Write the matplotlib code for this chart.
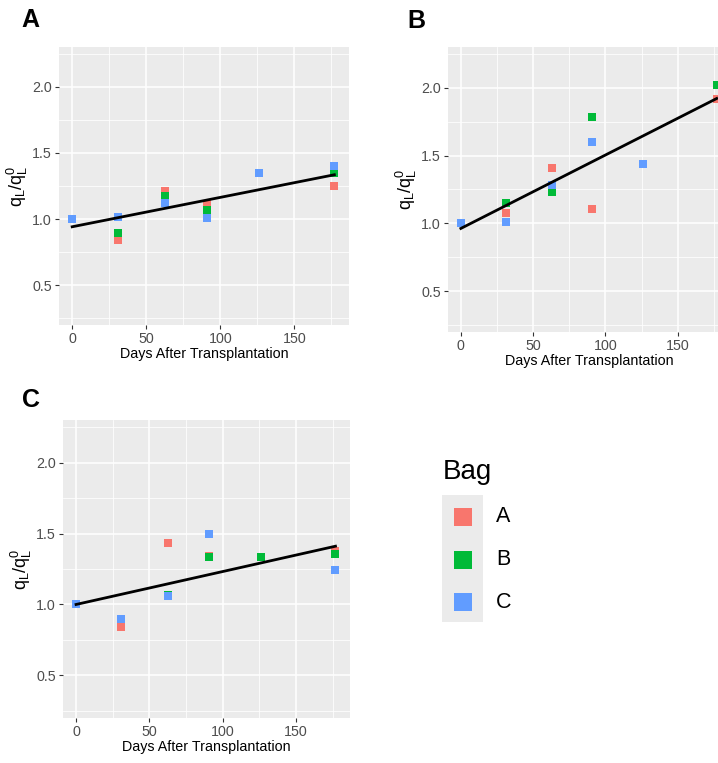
import numpy as np
import matplotlib
matplotlib.use("Agg")
import matplotlib.pyplot as plt
from matplotlib.lines import Line2D
from matplotlib.patches import Rectangle

plt.rcParams['font.family'] = ['Liberation Sans', 'DejaVu Sans']

# sampling days
days = [0, 31, 63, 91, 126, 177]
nan = np.nan

# panel A (q_L / q_L^0 per bag)
a_bag_a = [1.0, 0.84, 1.215, 1.115, nan, 1.25]
a_bag_b = [1.0, 0.895, 1.175, 1.07, nan, 1.35]
a_bag_c = [1.0, 1.015, 1.12, 1.01, 1.35, 1.40]

# panel B
b_bag_a = [1.0, 1.08, 1.405, 1.105, nan, 1.918]
b_bag_b = [1.0, 1.149, 1.234, 1.785, nan, 2.017]
b_bag_c = [1.0, 1.007, 1.28, 1.603, 1.437, nan]

# panel C
c_bag_a = [1.0, 0.84, 1.43, 1.345, nan, 1.38]
c_bag_b = [1.0, nan, 1.07, 1.335, 1.335, 1.355]
c_bag_c = [1.0, 0.90, 1.063, 1.495, nan, 1.24]

# linear fits: (intercept, slope)
fit_a = (0.942, 0.00222)
fit_b = (0.963, 0.00541)
fit_c = (1.0, 0.00232)

bag_labels = ['A', 'B', 'C']
bag_colors = ['#F8766D', '#00BA38', '#619CFF']

W, H = 718, 763
fig = plt.figure(figsize=(W / 100, H / 100), dpi=100)


def rect(x0, y0, x1, y1):
    # pixel box -> figure fraction
    return [x0 / W, 1 - y1 / H, (x1 - x0) / W, (y1 - y0) / H]


def panel(box, series, fit, label, label_xy):
    ax = fig.add_axes(rect(*box))
    ax.set_facecolor('#EBEBEB')
    for s in ax.spines.values():
        s.set_visible(False)
    ax.set_xlim(-8.9, 186.9)
    ax.set_ylim(0.2, 2.3)
    ax.set_xticks([0, 50, 100, 150])
    ax.set_yticks([0.5, 1.0, 1.5, 2.0])
    ax.set_yticklabels(['0.5', '1.0', '1.5', '2.0'])
    ax.set_xticks([25, 75, 125, 175], minor=True)
    ax.set_yticks([0.25, 0.75, 1.25, 1.75, 2.25], minor=True)
    ax.grid(True, which='major', color='white', linewidth=1.1)
    ax.grid(True, which='minor', color='white', linewidth=0.55)
    ax.set_axisbelow(True)
    ax.tick_params(which='major', length=3, width=0.8, color='#333333',
                   labelcolor='#4D4D4D', labelsize=10.3, pad=2)
    ax.tick_params(which='minor', length=0)
    for vals, col in zip(series, bag_colors):
        ax.plot(days, vals, linestyle='none', marker='s', markersize=5.5,
                color=col, markeredgewidth=0, zorder=3)
    xs = np.array([days[0], days[-1]])
    ax.plot(xs, fit[0] + fit[1] * xs, color='black', linewidth=2, zorder=4)
    ax.set_xlabel('Days After Transplantation', fontsize=10.3, labelpad=1)
    ax.set_ylabel(r'$\mathregular{q_L/q_L^0}$', fontsize=13, labelpad=2)
    fig.text(label_xy[0] / W, 1 - label_xy[1] / H, label, fontsize=18,
             fontweight='bold', ha='center', va='center')
    return ax


panel((59, 47, 349, 325), [a_bag_a, a_bag_b, a_bag_c], fit_a, 'A', (30, 20))
panel((448, 47, 731, 332), [b_bag_a, b_bag_b, b_bag_c], fit_b, 'B', (416, 21))
panel((63, 420, 350, 718), [c_bag_a, c_bag_b, c_bag_c], fit_c, 'C', (31, 400))

# legend
fig.patches.append(Rectangle((442 / W, 1 - 622 / H), 41 / W, 127 / H,
                             transform=fig.transFigure, facecolor='#EBEBEB',
                             edgecolor='none', zorder=0))
fig.text(443 / W, 1 - 479 / H, 'Bag', fontsize=20, ha='left', va='baseline')
for i, (lab, col) in enumerate(zip(bag_labels, bag_colors)):
    yc = 517 + 42.5 * i
    fig.add_artist(Line2D([462.5 / W], [1 - yc / H], marker='s', markersize=12.5,
                          color=col, markeredgewidth=0, linestyle='none',
                          transform=fig.transFigure))
    fig.text(496 / W, 1 - yc / H, lab, fontsize=15.5, ha='left', va='center')

fig.savefig('out.png', dpi=100)
